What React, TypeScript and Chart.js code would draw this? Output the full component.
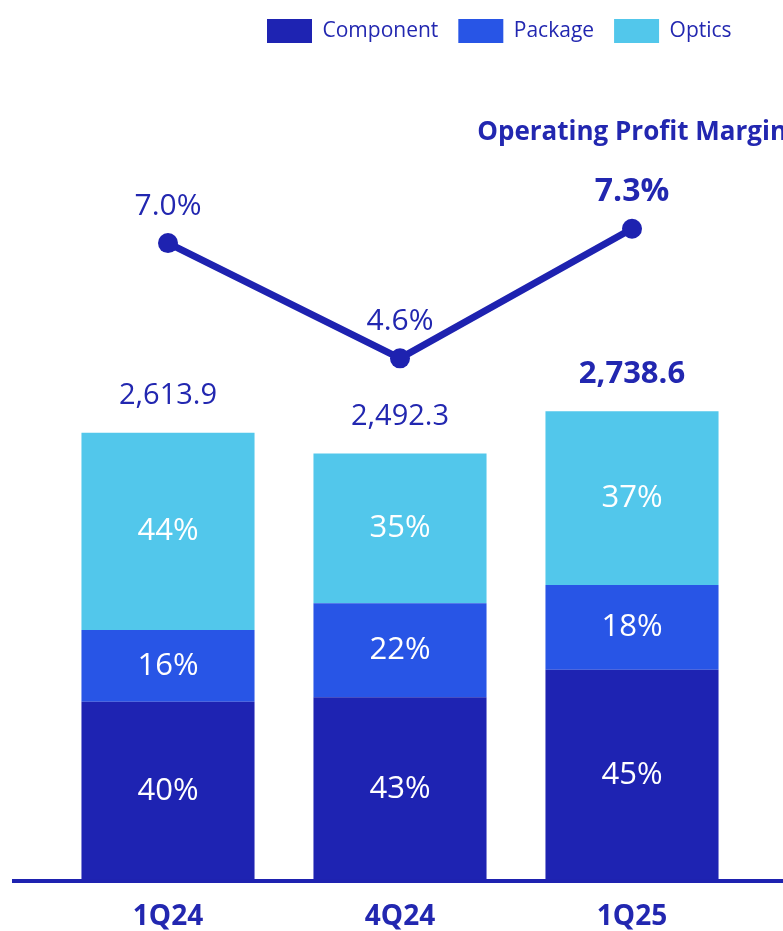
import React, { useEffect, useRef } from 'react';
import { Chart, registerables } from 'chart.js';

Chart.register(...registerables);

// ---- data ----
const categories = ['1Q24', '4Q24', '1Q25'];
const totalRevenue = [2613.9, 2492.3, 2738.6];
const componentShare = [40, 43, 45];
const packageShare = [16, 22, 18];
const opticsShare = [44, 35, 37];
const operatingMargin = [7.0, 4.6, 7.3];
const seriesNames = ['Component', 'Package', 'Optics'];
const shareSeries = [componentShare, packageShare, opticsShare];
const marginTitle = 'Operating Profit Margin';

// ---- style ----
const barColors = ['#1e23b2', '#2855e6', '#52c7eb'];
const TEXT = '#2227b0';
const LINE = '#1e22b0';
const FONT = "'Open Sans', 'Noto Sans', sans-serif";

const fmtTotal = (v: number) =>
  v.toLocaleString('en-US', { minimumFractionDigits: 1, maximumFractionDigits: 1 });

const labelPlugin = {
  id: 'customLabels',
  afterLayout(chart: any) {
    const lg = chart.legend;
    if (lg) {
      lg.left += 195;
      lg.right += 195;
      lg.top -= 1;
      lg.bottom -= 1;
    }
  },
  afterDatasetsDraw(chart: any) {
    const ctx = chart.ctx as CanvasRenderingContext2D;
    const area = chart.chartArea;
    const yScale = chart.scales.y;
    const last = categories.length - 1;
    ctx.save();

    // baseline axis line
    const y0 = yScale.getPixelForValue(0);
    ctx.strokeStyle = LINE;
    ctx.lineWidth = 4;
    ctx.beginPath();
    ctx.moveTo(area.left - 40, y0);
    ctx.lineTo(chart.width, y0);
    ctx.stroke();

    ctx.textAlign = 'center';
    ctx.textBaseline = 'middle';

    // segment share labels
    for (let d = 0; d < shareSeries.length; d++) {
      const meta = chart.getDatasetMeta(d);
      meta.data.forEach((el: any, i: number) => {
        const p = el.getProps(['x', 'y', 'base'], true);
        ctx.fillStyle = '#ffffff';
        ctx.font = `400 31px ${FONT}`;
        ctx.fillText(`${shareSeries[d][i]}%`, p.x, (p.y + p.base) / 2);
      });
    }

    // totals above bars
    const topMeta = chart.getDatasetMeta(shareSeries.length - 1);
    topMeta.data.forEach((el: any, i: number) => {
      const bold = i === last;
      ctx.fillStyle = TEXT;
      ctx.font = `${bold ? 700 : 400} ${bold ? 31 : 29}px ${FONT}`;
      ctx.fillText(fmtTotal(totalRevenue[i]), el.x, el.y - 37);
    });

    // margin labels
    const lineMeta = chart.getDatasetMeta(shareSeries.length);
    lineMeta.data.forEach((el: any, i: number) => {
      const bold = i === last;
      ctx.fillStyle = TEXT;
      ctx.font = `${bold ? 700 : 400} ${bold ? 32 : 30}px ${FONT}`;
      ctx.fillText(`${operatingMargin[i].toFixed(1)}%`, el.x, el.y - 37);
    });

    // margin title
    ctx.textAlign = 'right';
    ctx.fillStyle = TEXT;
    ctx.font = `700 26px ${FONT}`;
    ctx.fillText(marginTitle, chart.width + 4, area.top + 79);

    ctx.restore();
  },
};

export default function App() {
  const ref = useRef<HTMLCanvasElement>(null);

  useEffect(() => {
    if (!ref.current) return;
    const barSets = shareSeries.map((shares, d) => ({
      type: 'bar' as const,
      label: seriesNames[d],
      data: shares.map((s, i) => (totalRevenue[i] * s) / 100),
      backgroundColor: barColors[d],
      borderWidth: 0,
      yAxisID: 'y',
      stack: 'rev',
      barPercentage: 0.746,
      categoryPercentage: 1,
      order: 1,
    }));
    const chart = new Chart(ref.current, {
      type: 'bar',
      data: {
        labels: categories,
        datasets: [
          ...barSets,
          {
            type: 'line' as const,
            label: marginTitle,
            data: operatingMargin,
            yAxisID: 'y1',
            borderColor: LINE,
            backgroundColor: LINE,
            borderWidth: 7,
            pointRadius: 10,
            pointBackgroundColor: LINE,
            pointBorderWidth: 0,
            tension: 0,
            order: 0,
          } as any,
        ],
      },
      options: {
        animation: false,
        responsive: true,
        maintainAspectRatio: false,
        events: [],
        layout: { padding: { left: 52, right: 35, top: 0, bottom: -22 } },
        plugins: {
          tooltip: { enabled: false },
          legend: {
            position: 'top',
            align: 'start',
            labels: {
              boxWidth: 45,
              boxHeight: 24,
              padding: 20,
              color: TEXT,
              font: { family: FONT, size: 21 },
              filter: (item: any) => item.datasetIndex < shareSeries.length,
            },
          },
        },
        scales: {
          x: {
            stacked: true,
            grid: { display: false, drawTicks: false },
            border: { display: false },
            ticks: {
              color: TEXT,
              padding: 19.2,
              font: { family: FONT, size: 28, weight: 'bold' },
            },
          },
          y: { display: false, stacked: true, min: 0, max: 4822 },
          y1: { display: false, stacked: false, min: -6.29, max: 10.94 },
        },
      },
      plugins: [labelPlugin],
    });
    return () => chart.destroy();
  }, []);

  return (
    <div style={{ position: 'absolute', left: 0, top: 0, width: 783, height: 931 }}>
      <canvas ref={ref} />
    </div>
  );
}
